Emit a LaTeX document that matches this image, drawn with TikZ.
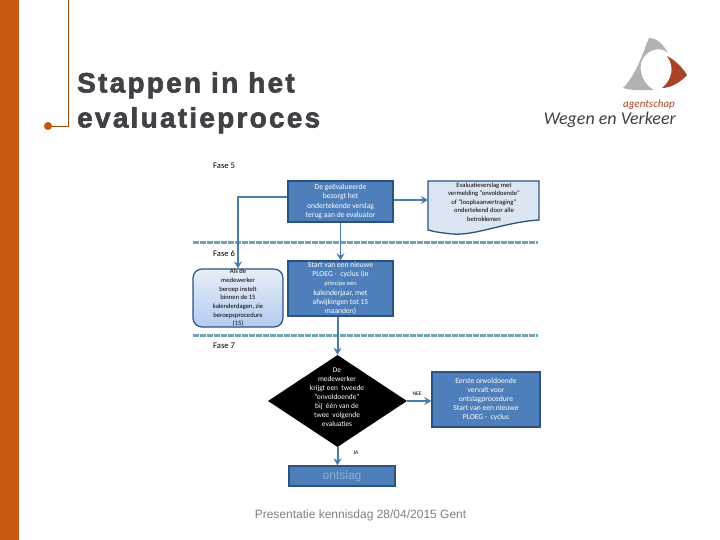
\documentclass[tikz,border=0pt]{standalone}
\usepackage{fontspec}
\setmainfont{Carlito}
\newfontfamily\titlefont[LetterSpace=8,FakeBold=2.2]{Liberation Sans Bold}
\newfontfamily\footfont{Liberation Sans}
\newfontfamily\logofont{Carlito}
\usetikzlibrary{positioning,shapes.geometric,arrows.meta}

\definecolor{barorange}{HTML}{C55A11}
\definecolor{titlegray}{HTML}{404045}
\definecolor{boxblue}{HTML}{4F7FBB}
\definecolor{boxedge}{HTML}{2C5380}
\definecolor{arrowblue}{HTML}{4A7EA8}
\definecolor{docblue}{HTML}{DCE6F2}
\definecolor{dashteal}{HTML}{6FA6B6}
\definecolor{logored}{HTML}{A8432A}
\definecolor{beroepblue}{HTML}{B4CCF2}

\tikzset{
 faselabel/.style={font=\fontsize{8.6}{9}\selectfont,black},
 bluebox/.style={draw=boxedge,line width=1.3pt,fill=boxblue,text=white,align=center,inner sep=0pt,
   font=\fontsize{7.6}{9.2}\selectfont},
 flowarrow/.style={arrowblue,line width=2pt,-{Stealth[length=7pt,width=8pt]}},
 fasedash/.style={dashteal,line width=3pt,dash pattern=on 6pt off 1pt},
}

\begin{document}
\begin{tikzpicture}[x=1pt,y=-1pt]
 \useasboundingbox (0,0) rectangle (720,540);

 %Slide
 \fill[barorange] (0,0) rectangle (19,540);
 \draw[barorange!80!black,line width=0.6pt] (68,0) -- (68,126) -- (48,126);
 \fill[barorange!90!red] (48,126) circle (4);

 \node (title) [anchor=north west,align=left,inner sep=0pt,text=titlegray,
   font=\titlefont\fontsize{28}{35}\selectfont] at (77,72) {Stappen in het\\evaluatieproces};

 %Logo
 \fill[gray!60] (649,38) .. controls (658,38) and (664,46) .. (668,53) .. controls (660,45) and (645,50) .. (641,63)
   .. controls (639,75) and (645,85) .. (654,90) .. controls (643,90) and (632,91) .. (623,88)
   .. controls (636,75) and (642,55) .. (649,38) -- cycle;
 \fill[logored] (667,56) .. controls (675,60) and (683,68) .. (687,75) .. controls (680,83) and (670,88) .. (662,88)
   .. controls (672,80) and (675,67) .. (667,56) -- cycle;
 \node (agentschap) [anchor=east,inner sep=0pt,text=logored,font=\logofont\itshape\fontsize{11}{12}\selectfont] at (675,105) {agentschap};
 \node (wegen) [anchor=east,inner sep=0pt,text=black!75,font=\logofont\itshape\fontsize{18}{18}\selectfont] at (676,120) {Wegen en Verkeer};

 %Fases
 \node (fase5) [faselabel,anchor=west,inner sep=0pt] at (213,166) {Fase 5};
 \node (fase6) [faselabel,anchor=west,inner sep=0pt] at (213,254) {Fase 6};
 \node (fase7) [faselabel,anchor=west,inner sep=0pt] at (213,346) {Fase 7};
 \draw[fasedash] (193,242) -- (538,242);
 \draw[fasedash] (193,335) -- (538,335);

 %Boxes
 \node (terug) [bluebox,minimum width=105pt,minimum height=41pt] at (340.5,201.5)
   {De geëvalueerde\\bezorgt het\\ondertekende verslag\\terug aan de evaluator};
 \coordinate (verslagleft) at (428,181);
 \draw[boxedge,line width=1.3pt,fill=docblue] (verslagleft) -- (539,181) -- (539,220)
   .. controls (505,222) and (475,236) .. (452,234) .. controls (443,233) and (435,232) .. (428,230) -- cycle;
 \node (verslag) [inner sep=0pt,align=center,font=\fontsize{6.6}{8.6}\selectfont] at (484,202)
   {Evaluatieverslag met\\vermelding "onvoldoende"\\of "loopbaanvertraging"\\ondertekend door alle\\betrokkenen};
 \node (beroep) [draw=boxedge,line width=1.2pt,rounded corners=9pt,inner sep=0pt,minimum width=90pt,minimum height=58pt,
   top color=docblue!70!white,bottom color=beroepblue,align=center,
   font=\fontsize{6.6}{8.7}\selectfont] at (238,298)
   {Als de\\medewerker\\beroep instelt\\binnen de 15\\kalenderdagen, zie\\beroepsprocedure\\(15)};
 \node (start) [bluebox,minimum width=105pt,minimum height=55pt] at (340.5,288.5)
   {Start van een nieuwe\\PLOEG - \ cyclus (in\\{\fontsize{6.4}{9.2}\selectfont principe een}\\kalenderjaar, met\\afwijkingen tot 15\\maanden)};
 \node (krijgt) [diamond,fill=black,text=white,inner sep=0pt,minimum width=139pt,minimum height=92pt,aspect=1.5] at (337.5,401) {};
 \node (krijgttext) [inner sep=0pt,text=white,align=center,font=\fontsize{7.4}{9}\selectfont] at (337,397)
   {De\\medewerker\\krijgt een \ tweede\\"onvoldoende"\\bij \ één van de\\twee \ volgende\\evaluaties};
 \node (eerste) [bluebox,minimum width=108pt,minimum height=55pt] at (486,399.5)
   {Eerste onvoldoende\\vervalt voor\\ontslagprocedure\\Start van een nieuwe\\PLOEG - \ cyclus};
 \node (ontslag) [bluebox,minimum width=106pt,minimum height=20pt,text=white!35!boxblue,
   font=\footfont\fontsize{12}{13}\selectfont] at (342,476) {ontslag};

 %Labels
 \node (nee) [inner sep=0pt,font=\fontsize{5.5}{6}\selectfont] at (417,394) {NEE};
 \node (ja) [inner sep=0pt,font=\fontsize{5.5}{6}\selectfont] at (356,453) {JA};
 \node (footer) [inner sep=0pt,text=black!50,font=\footfont\fontsize{12}{13}\selectfont] at (360.5,515) {Presentatie kennisdag 28/04/2015 Gent};

 %Arrows
 \coordinate (terugleft) at ([yshift=4.5pt]terug.west);
 \coordinate (terugright) at ([yshift=1.5pt]terug.east);
 \draw[flowarrow] (terugleft) -| (beroep.north);
 \draw[flowarrow] (terugright) -- (verslagleft |- terugright);
 \draw[flowarrow,line width=1.2pt] (terug.south) -- (start.north);
 \draw[flowarrow] (start.south -| krijgt.north) -- (krijgt.north);
 \draw[flowarrow] (krijgt.east) -- (krijgt.east -| eerste.west);
 \draw[flowarrow] (krijgt.south) -- (krijgt.south |- ontslag.north);
\end{tikzpicture}
\end{document}
